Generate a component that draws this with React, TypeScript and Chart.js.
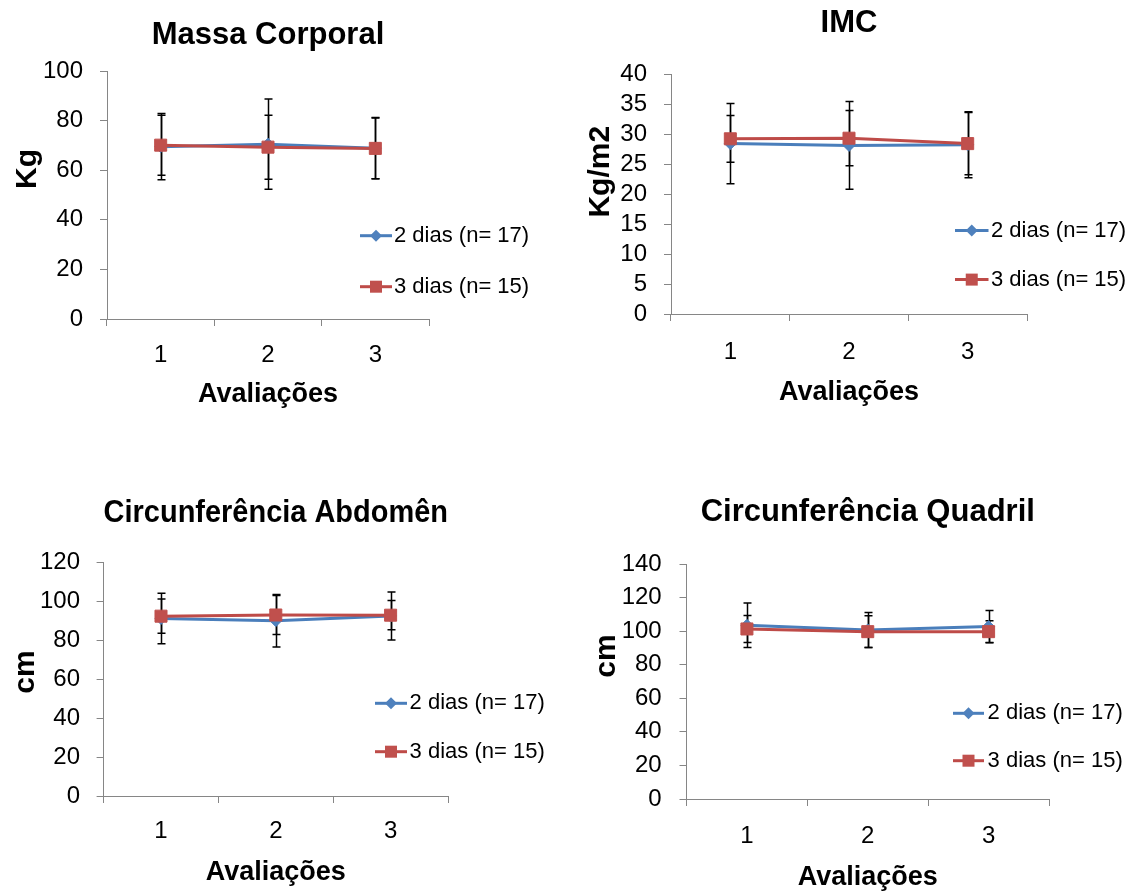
import React, { useEffect, useRef } from 'react';
import { Chart, registerables } from 'chart.js';

Chart.register(...registerables);

const FONT = '"Liberation Sans", Arial, Helvetica, sans-serif';
Chart.defaults.font.family = FONT;

// ---------- data ----------
const categories = ['1', '2', '3'];
const seriesNames = ['2 dias (n= 17)', '3 dias (n= 15)'];
const xAxisTitle = 'Avaliações';

const massaTitle = 'Massa Corporal';
const massaUnit = 'Kg';
const massaYRange = [0, 100, 20];
const massaDois = [69.5, 70.5, 68.9];
const massaDoisErr = [13.4, 18.2, 12.3];
const massaTres = [70.1, 69.3, 68.8];
const massaTresErr = [12.1, 12.9, 12.2];

const imcTitle = 'IMC';
const imcUnit = 'Kg/m2';
const imcYRange = [0, 40, 5];
const imcDois = [28.4, 28.1, 28.2];
const imcDoisErr = [6.7, 7.3, 5.5];
const imcTres = [29.2, 29.3, 28.4];
const imcTresErr = [3.9, 4.6, 5.2];

const abdTitle = 'Circunferência Abdomên';
const abdUnit = 'cm';
const abdYRange = [0, 120, 20];
const abdDois = [91.3, 90.2, 92.6];
const abdDoisErr = [13, 13.5, 12.3];
const abdTres = [92.5, 93.1, 93.0];
const abdTresErr = [8.8, 10, 7.5];

const quaTitle = 'Circunferência Quadril';
const quaUnit = 'cm';
const quaYRange = [0, 140, 20];
const quaDois = [103.5, 100.7, 102.7];
const quaDoisErr = [13.2, 10.4, 9.6];
const quaTres = [101.3, 99.7, 99.7];
const quaTresErr = [8, 9.4, 6.5];

// ---------- styles / layout ----------
const AXIS = '#868686';
const BLUE_LINE = '#4A7EBB';
const BLUE_MARK = '#4F81BD';
const RED_LINE = '#BE4B48';
const RED_MARK = '#C0504D';

type Spec = {
  title: string;
  unit: string;
  yRange: number[];
  series: { values: number[]; err: number[] }[];
  box: number[]; // canvas x, y, w, h (page coords)
  plot: number[]; // L, T, R, B (page coords)
  titleY: number;
  yTickPad: number;
  xTickY: number;
  xTitleY: number;
  yTitle: number[];
  legend: number[]; // lineX1, lineX2, textX, y1, y2
};

const specs: Spec[] = [
  {
    title: massaTitle, unit: massaUnit, yRange: massaYRange,
    series: [{ values: massaDois, err: massaDoisErr }, { values: massaTres, err: massaTresErr }],
    box: [0, 0, 565, 446], plot: [107, 71, 429, 319],
    titleY: 35, yTickPad: 17, xTickY: 355, xTitleY: 395, yTitle: [27.5, 169],
    legend: [360, 392, 394, 235.7, 286.7],
  },
  {
    title: imcTitle, unit: imcUnit, yRange: imcYRange,
    series: [{ values: imcDois, err: imcDoisErr }, { values: imcTres, err: imcTresErr }],
    box: [565, 0, 566, 446], plot: [671, 74, 1027, 314],
    titleY: 23.7, yTickPad: 17, xTickY: 352, xTitleY: 392.8, yTitle: [600.5, 171.7],
    legend: [955, 988.5, 991, 230.6, 279.6],
  },
  {
    title: abdTitle, unit: abdUnit, yRange: abdYRange,
    series: [{ values: abdDois, err: abdDoisErr }, { values: abdTres, err: abdTresErr }],
    box: [0, 446, 565, 446], plot: [103.6, 562.7, 448, 796],
    titleY: 513, yTickPad: 16.6, xTickY: 831.7, xTitleY: 873, yTitle: [26, 672],
    legend: [375, 407, 409.6, 703.3, 751.7],
  },
  {
    title: quaTitle, unit: quaUnit, yRange: quaYRange,
    series: [{ values: quaDois, err: quaDoisErr }, { values: quaTres, err: quaTresErr }],
    box: [565, 446, 566, 446], plot: [686.5, 564, 1049, 799],
    titleY: 512, yTickPad: 17.8, xTickY: 836.7, xTitleY: 878, yTitle: [606.5, 656],
    legend: [953, 984, 987.6, 713.3, 760.7],
  },
];

function drawDiamond(ctx: CanvasRenderingContext2D, x: number, y: number, r: number, color: string) {
  ctx.beginPath();
  ctx.moveTo(x, y - r);
  ctx.lineTo(x + r, y);
  ctx.lineTo(x, y + r);
  ctx.lineTo(x - r, y);
  ctx.closePath();
  ctx.fillStyle = color;
  ctx.fill();
}

function drawSquare(ctx: CanvasRenderingContext2D, x: number, y: number, s: number, color: string) {
  ctx.fillStyle = color;
  ctx.fillRect(x - s / 2, y - s / 2, s, s);
}

function buildChart(canvas: HTMLCanvasElement, spec: Spec) {
  const [cx, cy, cw, ch] = spec.box;
  const [L, T, R, B] = spec.plot;
  const tickFont = { family: FONT, size: 24 };
  const titleSize = 31;
  const titleHalf = (titleSize * 1.2) / 2;
  const xTitleSize = 27;
  const xTitleHalf = xTitleSize / 2;
  const tickHalf = (24 * 1.2) / 2;

  const errorBars = {
    id: 'errorBars',
    beforeDatasetsDraw(chart: any) {
      const { ctx, scales } = chart;
      const x = scales.x;
      const y = scales.y;
      ctx.save();
      ctx.strokeStyle = '#000';
      ctx.lineWidth = 1.5;
      spec.series.forEach((s) => {
        s.values.forEach((v, i) => {
          const px = Math.round(x.getPixelForValue(i)) + 0.5;
          const top = y.getPixelForValue(v + s.err[i]);
          const bot = y.getPixelForValue(v - s.err[i]);
          ctx.beginPath();
          ctx.moveTo(px, top);
          ctx.lineTo(px, bot);
          ctx.moveTo(px - 4, top);
          ctx.lineTo(px + 4, top);
          ctx.moveTo(px - 4, bot);
          ctx.lineTo(px + 4, bot);
          ctx.stroke();
        });
      });
      ctx.restore();
    },
  };

  const overlay = {
    id: 'overlay',
    afterDraw(chart: any) {
      const ctx: CanvasRenderingContext2D = chart.ctx;
      ctx.save();
      // y-axis title
      ctx.translate(spec.yTitle[0] - cx, spec.yTitle[1] - cy);
      ctx.rotate(-Math.PI / 2);
      ctx.font = `bold 30px ${FONT}`;
      ctx.fillStyle = '#000';
      ctx.textAlign = 'center';
      ctx.textBaseline = 'middle';
      ctx.fillText(spec.unit, 0, 0);
      ctx.restore();

      // legend
      const [lx1, lx2, tx, ly1, ly2] = spec.legend;
      const rows = [
        { y: ly1, line: BLUE_LINE, mark: BLUE_MARK, diamond: true, label: seriesNames[0] },
        { y: ly2, line: RED_LINE, mark: RED_MARK, diamond: false, label: seriesNames[1] },
      ];
      ctx.save();
      rows.forEach((row) => {
        const y = row.y - cy;
        ctx.strokeStyle = row.line;
        ctx.lineWidth = 3;
        ctx.beginPath();
        ctx.moveTo(lx1 - cx, y);
        ctx.lineTo(lx2 - cx, y);
        ctx.stroke();
        const mx = (lx1 + lx2) / 2 - cx;
        if (row.diamond) drawDiamond(ctx, mx, y, 6, row.mark);
        else drawSquare(ctx, mx, y, 12, row.mark);
        ctx.font = `22px ${FONT}`;
        ctx.fillStyle = '#000';
        ctx.textAlign = 'left';
        ctx.textBaseline = 'middle';
        ctx.fillText(row.label, tx - cx, y);
      });
      ctx.restore();
    },
  };

  return new Chart(canvas, {
    type: 'line',
    data: {
      labels: categories,
      datasets: [
        {
          label: seriesNames[0],
          data: spec.series[0].values,
          borderColor: BLUE_LINE,
          backgroundColor: BLUE_MARK,
          borderWidth: 3,
          pointStyle: 'rectRot',
          pointRadius: 6,
          pointBackgroundColor: BLUE_MARK,
          pointBorderColor: BLUE_MARK,
          pointBorderWidth: 1,
          tension: 0,
          order: 1,
        },
        {
          label: seriesNames[1],
          data: spec.series[1].values,
          borderColor: RED_LINE,
          backgroundColor: RED_MARK,
          borderWidth: 3,
          pointStyle: 'rect',
          pointRadius: 8.5,
          pointBackgroundColor: RED_MARK,
          pointBorderColor: RED_MARK,
          pointBorderWidth: 1,
          tension: 0,
          order: 0,
        },
      ],
    },
    options: {
      responsive: false,
      animation: false,
      events: [],
      layout: { padding: { left: 0, top: 0, right: cw - (R - cx), bottom: 0 } },
      plugins: {
        legend: { display: false },
        tooltip: { enabled: false },
        title: {
          display: true,
          text: spec.title,
          fullSize: false,
          color: '#000',
          font: { family: FONT, size: titleSize, weight: 'bold', lineHeight: 1.2 },
          padding: { top: spec.titleY - cy - titleHalf, bottom: T - spec.titleY - titleHalf },
        },
      },
      scales: {
        x: {
          type: 'category',
          offset: true,
          grid: {
            display: true,
            drawOnChartArea: false,
            drawTicks: true,
            tickLength: 7,
            offset: true,
            color: AXIS,
          },
          border: { display: true, color: AXIS, width: 1 },
          ticks: {
            color: '#000',
            font: tickFont,
            padding: spec.xTickY - B - 7 - tickHalf,
            maxRotation: 0,
            autoSkip: false,
          },
          title: {
            display: true,
            text: xAxisTitle,
            color: '#000',
            font: { family: FONT, size: xTitleSize, weight: 'bold', lineHeight: 1 },
            padding: { top: 0, bottom: cy + ch - spec.xTitleY - xTitleHalf },
          },
          afterFit: (s: any) => {
            s.height = cy + ch - B;
          },
        },
        y: {
          min: spec.yRange[0],
          max: spec.yRange[1],
          ticks: {
            stepSize: spec.yRange[2],
            color: '#000',
            font: tickFont,
            padding: spec.yTickPad,
            autoSkip: false,
          },
          grid: {
            display: true,
            drawOnChartArea: false,
            drawTicks: true,
            tickLength: 7,
            color: AXIS,
          },
          border: { display: true, color: AXIS, width: 1 },
          afterFit: (s: any) => {
            s.width = L - cx;
          },
        },
      },
    },
    plugins: [errorBars, overlay],
  } as any);
}

function Panel({ spec }: { spec: Spec }) {
  const ref = useRef<HTMLCanvasElement | null>(null);
  useEffect(() => {
    if (!ref.current) return;
    const chart = buildChart(ref.current, spec);
    return () => chart.destroy();
  }, [spec]);
  const [x, y, w, h] = spec.box;
  return (
    <canvas
      ref={ref}
      width={w}
      height={h}
      style={{ position: 'absolute', left: x, top: y, width: w, height: h, display: 'block' }}
    />
  );
}

export default function App() {
  return (
    <div
      style={{
        position: 'absolute',
        left: 0,
        top: 0,
        width: 1131,
        height: 892,
        overflow: 'hidden',
        background: '#fff',
      }}
    >
      {specs.map((s, i) => (
        <Panel key={i} spec={s} />
      ))}
    </div>
  );
}
